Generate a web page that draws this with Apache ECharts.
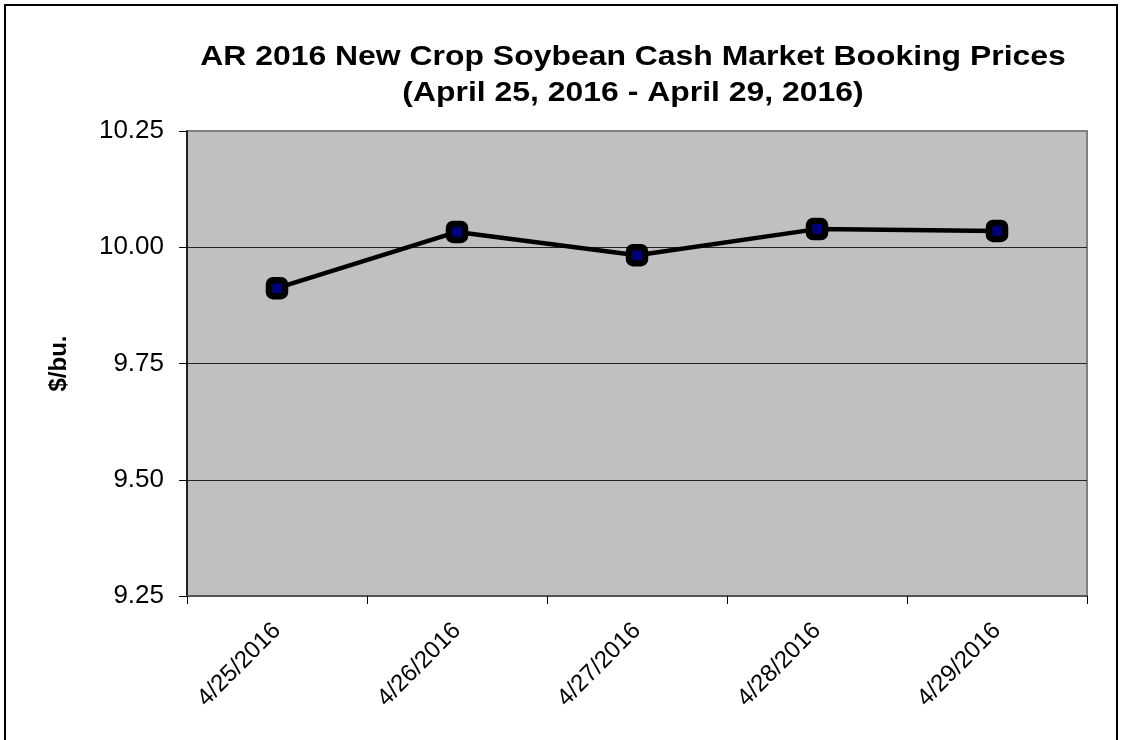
<!DOCTYPE html>
<html>
<head>
<meta charset="utf-8">
<script src="https://cdn.jsdelivr.net/npm/echarts@6/dist/echarts.min.js"></script>
<style>
  html, body { margin: 0; padding: 0; background: #fff; }
  #chart { width: 1123px; height: 740px; }
</style>
</head>
<body>
<div id="chart"></div>
<script>
// 数据
const dates = ['4/25/2016', '4/26/2016', '4/27/2016', '4/28/2016', '4/29/2016'];
const prices = [9.912, 10.033, 9.983, 10.039, 10.035];
const titleLines = ['AR 2016 New Crop Soybean Cash Market Booking Prices', '(April 25, 2016 - April 29, 2016)'];

const font = 'Liberation Sans, Arial, sans-serif';
const chart = echarts.init(document.getElementById('chart'));

chart.setOption({
  animation: false,
  backgroundColor: '#fff',
  graphic: [
    // 外框
    {
      type: 'rect',
      shape: { x: 5, y: 5, width: 1112, height: 760 },
      style: { fill: 'none', stroke: '#000', lineWidth: 2 }
    },
    // 标题 (原图文字略微横向拉伸)
    {
      type: 'text',
      x: 633, y: 43, scaleX: 1.14,
      style: { text: titleLines[0], textAlign: 'center', font: 'bold 28px ' + font, fill: '#000' }
    },
    {
      type: 'text',
      x: 633, y: 79, scaleX: 1.14,
      style: { text: titleLines[1], textAlign: 'center', font: 'bold 28px ' + font, fill: '#000' }
    }
  ],
  grid: {
    left: 187, right: 36, top: 131, bottom: 144,
    show: true,
    backgroundColor: '#C0C0C0',
    borderColor: '#808080',
    borderWidth: 2
  },
  xAxis: {
    type: 'category',
    data: dates,
    boundaryGap: true,
    axisLine: { lineStyle: { color: '#555', width: 2 } },
    axisTick: { show: true, length: 8, lineStyle: { color: '#000' } },
    axisLabel: { rotate: 45, fontSize: 24, color: '#000', fontFamily: font, margin: 31 }
  },
  yAxis: {
    type: 'value',
    min: 9.25,
    max: 10.25,
    interval: 0.25,
    name: '$/bu.',
    nameLocation: 'middle',
    nameRotate: 90,
    nameGap: 116,
    nameTextStyle: { fontSize: 24, fontWeight: 'bold', color: '#000', fontFamily: font },
    axisLine: { show: true, lineStyle: { color: '#000', width: 1.5 } },
    axisTick: { show: true, length: 8, lineStyle: { color: '#000' } },
    axisLabel: {
      fontSize: 26, color: '#000', fontFamily: font, margin: 23,
      formatter: (v) => v.toFixed(2)
    },
    splitLine: { show: true, showMinLine: false, showMaxLine: false, lineStyle: { color: '#222', width: 1 } }
  },
  series: [
    {
      type: 'line',
      data: prices,
      symbol: 'roundRect',
      symbolSize: 16,
      lineStyle: { color: '#000', width: 4.5 },
      itemStyle: { color: '#000080', borderColor: '#000', borderWidth: 6.5 }
    }
  ]
});
</script>
</body>
</html>
